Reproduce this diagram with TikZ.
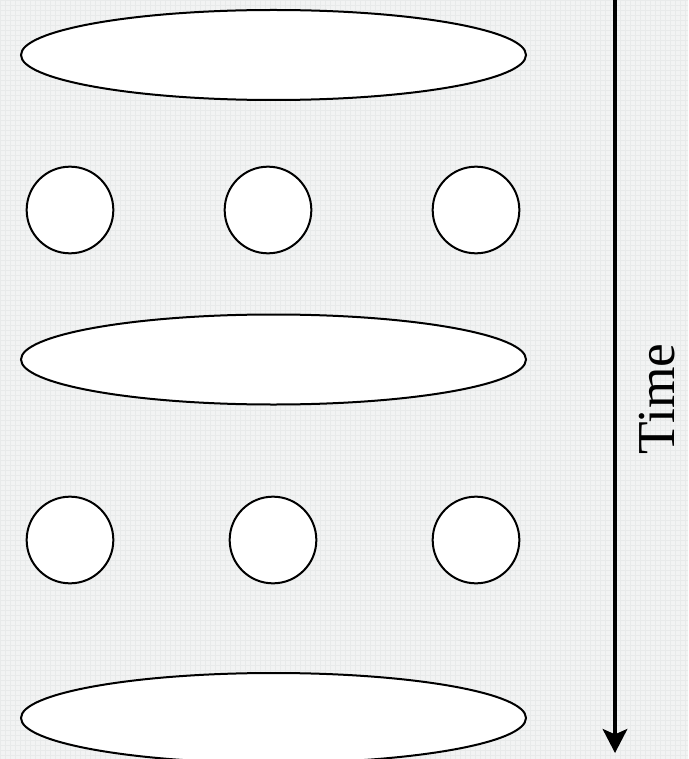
\documentclass[tikz,border=0pt]{standalone}
\usepackage{fontspec}
\setmainfont{Liberation Serif}
\usepackage{xcolor}
\usetikzlibrary{shapes.geometric,arrows.meta}
\definecolor{paperGrey}{RGB}{242,243,243}
\definecolor{gridGrey}{RGB}{232,234,234}

\begin{document}
\begin{tikzpicture}[x=0.75pt,y=-0.75pt,
    slab/.style={ellipse,draw,line width=1.5pt,fill=white,inner sep=0pt,
                 minimum width=378.75pt,minimum height=67.5pt},
    blob/.style={circle,draw,line width=1.5pt,fill=white,inner sep=0pt,
                 minimum size=65pt}]
                    \clip (0,0) rectangle (688,759);
                    \fill[paperGrey] (0,0) rectangle (688,759);
                    \draw[gridGrey,line width=0.3pt,step=3.75pt] (0,0) grid (688,759);
                    
                    \node[slab] (slabA) at (273.5,55) {};
                    \node[blob] (blobA1) at (70,210) {};
                    \node[blob] (blobA2) at (268,210) {};
                    \node[blob] (blobA3) at (476,210) {};
                    
                    \node[slab] (slabB) at (273.5,359.5) {};
                    \node[blob] (blobB1) at (70,540) {};
                    \node[blob] (blobB2) at (273,540) {};
                    \node[blob] (blobB3) at (476,540) {};
                    
                    \node[slab] (slabC) at (273.5,718) {};
                    
                    \coordinate (tStart) at (615,0);
                    \coordinate (tEnd) at (615,753);
                    \draw[line width=2.4pt,-{Stealth[length=18pt,width=18.5pt,inset=4pt]}] (tStart) -- (tEnd);
                    \node[rotate=90] (timeLabel) at (657,399) {\fontsize{40}{48}\selectfont Time};
                \end{tikzpicture}
\end{document}
